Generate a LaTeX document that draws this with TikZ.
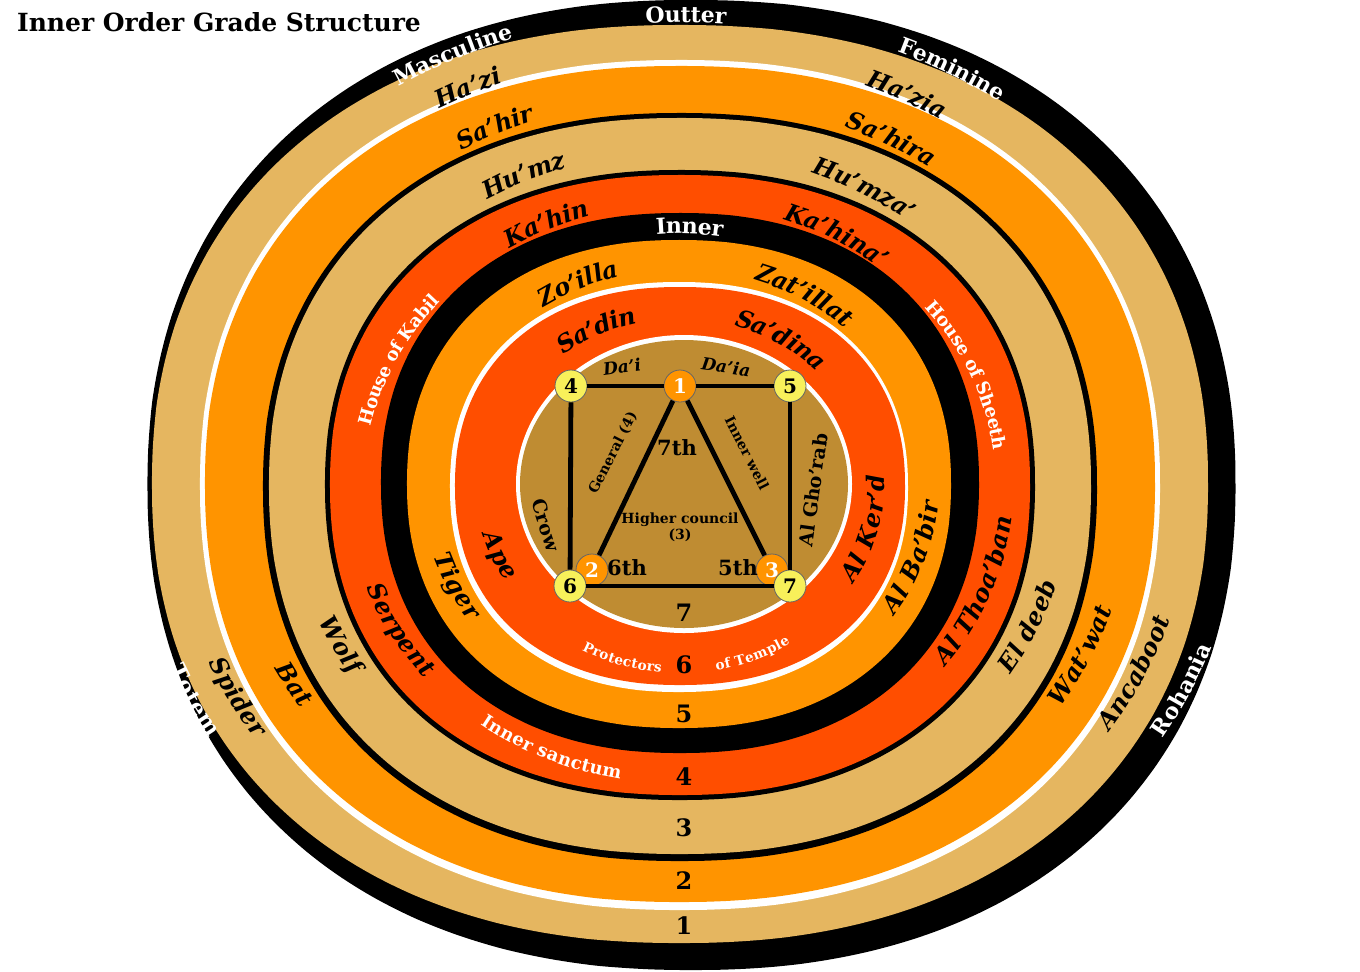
\documentclass[tikz,border=0pt]{standalone}
\usepackage{fontspec}
\setmainfont{DejaVu Serif}
\usetikzlibrary{decorations.text}
\definecolor{tanband}{RGB}{229,182,96}
\definecolor{orangeband}{RGB}{255,148,0}
\definecolor{redband}{RGB}{255,78,0}
\definecolor{browndisc}{RGB}{191,140,50}
\definecolor{yellownode}{RGB}{248,240,90}
\newcommand{\labfont}{\fontsize{12}{14}\selectfont\bfseries\itshape}
\newcommand{\capfont}{\fontsize{11}{13}\selectfont\bfseries}
\newcommand{\smallcap}{\fontsize{9}{11}\selectfont\bfseries}
\newcommand{\tinycap}{\fontsize{6.8}{8}\selectfont\bfseries}
% a filled ring boundary, a little squarer than an ellipse
\newcommand{\ringfill}[5]{\fill[#5] plot[domain=0.5:360.5,samples=145,smooth]
  ({#1+#3*sign(cos(\x))*abs(cos(\x))^0.9},{#2+#4*sign(sin(\x))*abs(sin(\x))^0.9}) -- cycle;}
% text running clockwise (top of ring)
\newcommand{\cwlabel}[7]{\path[decorate,decoration={text along path,text align=center,raise=-4.5pt,text color=#5,text={|#6|#7}}]
  (#1) ++({-(#4)-40}:1.025*#2 and 1.025*#3) arc[start angle={-(#4)-40},end angle={-(#4)+40},x radius=1.025*#2,y radius=1.025*#3];}
% text running counter clockwise (bottom and sides)
\newcommand{\ccwlabel}[7]{\path[decorate,decoration={text along path,text align=center,raise=-4.5pt,text color=#5,text={|#6|#7}}]
  (#1) ++({-(#4)+40}:1.025*#2 and 1.025*#3) arc[start angle={-(#4)+40},end angle={-(#4)-40},x radius=1.025*#2,y radius=1.025*#3];}
\tikzset{
  gradenode/.style={circle,draw=black!60,line width=0.4pt,minimum size=16pt,inner sep=0pt,font=\fontsize{10}{11}\selectfont\bfseries},
  yellowgrade/.style={gradenode,fill=yellownode,text=black},
  orangegrade/.style={gradenode,fill=orangeband,text=white},
  link/.style={line width=2.4pt,black},
  ringnum/.style={font=\fontsize{12}{14}\selectfont\bfseries}
}
\begin{document}
\begin{tikzpicture}[x=0.5pt,y=-0.5pt]
  \useasboundingbox (0,0) rectangle (1360,971);
  % rings, outside in
  \ringfill{691.5}{485}{544}{485}{black}
  \ringfill{680}{484}{528}{459}{tanband}
  \ringfill{680}{485}{480}{425}{white}
  \ringfill{680}{484}{475}{418}{orangeband}
  \ringfill{680}{487}{417}{374}{black}
  \ringfill{680}{486}{411}{368}{tanband}
  \ringfill{680}{485}{355}{315}{black}
  \ringfill{680}{485}{350}{310}{redband}
  \ringfill{680}{483}{299}{270}{black}
  \ringfill{679}{484}{272}{244}{orangeband}
  \ringfill{679}{487}{229}{205}{white}
  \ringfill{680}{486}{225}{199}{redband}
  \fill[white] (684,484) ellipse [x radius=168,y radius=149];
  \fill[browndisc] (684,484) ellipse [x radius=164,y radius=144];

  \node[anchor=west,font=\fontsize{12.5}{14}\selectfont\bfseries] (title) at (10,22) {Inner Order Grade Structure};

  % outer black ring
  \cwlabel{686,485}{527}{460}{90}{white}{\capfont}{Outter}
  \cwlabel{686,485}{535}{468}{116.5}{white}{\capfont}{Masculine}
  \cwlabel{686,485}{535}{468}{59.5}{white}{\capfont}{Feminine}
  \ccwlabel{686,485}{535}{468}{205.3}{white}{\capfont}{Totem}
  \ccwlabel{686,485}{535}{468}{-24}{white}{\capfont}{Rohania}
  % ring 1
  \cwlabel{680,485}{490}{429}{116.2}{black}{\labfont}{Ha’zi}
  \cwlabel{680,485}{490}{429}{61.8}{black}{\labfont}{Ha’zia}
  \ccwlabel{680,485}{492}{431}{207.3}{black}{\labfont}{Spider}
  \ccwlabel{680,485}{492}{431}{-24}{black}{\labfont}{Ancaboot}
  % ring 2
  \cwlabel{680,485}{435}{386}{115.7}{black}{\labfont}{Sa’hir}
  \cwlabel{680,485}{435}{386}{60.4}{black}{\labfont}{Sa’hira}
  \ccwlabel{680,485}{435}{386}{208.9}{black}{\labfont}{Bat}
  \ccwlabel{680,485}{435}{386}{-24.5}{black}{\labfont}{Wat’wat}
  % ring 3
  \cwlabel{680,485}{374}{334}{115.2}{black}{\labfont}{Hu’mz}
  \cwlabel{680,485}{374}{334}{59.9}{black}{\labfont}{Hu’mza’}
  \ccwlabel{680,485}{374}{334}{206.7}{black}{\labfont}{Wolf}
  \ccwlabel{680,485}{374}{334}{-23.4}{black}{\labfont}{El deeb}
  % ring 4
  \cwlabel{680,485}{317}{283}{115.4}{black}{\labfont}{Ka’hin}
  \cwlabel{680,485}{317}{283}{59.7}{black}{\labfont}{Ka’hina’}
  \cwlabel{680,485}{317}{283}{154.5}{white}{\smallcap}{House of Kabil}
  \cwlabel{680,485}{317}{283}{22.4}{white}{\smallcap}{House of Sheeth}
  \ccwlabel{680,485}{317}{283}{209}{black}{\labfont}{Serpent}
  \ccwlabel{680,485}{317}{283}{-21}{black}{\labfont}{Al Thoa’ban}
  \ccwlabel{680,485}{317}{283}{245.6}{white}{\smallcap}{Inner sanctum}
  % inner black ring
  \cwlabel{680,485}{280}{254}{88}{white}{\capfont}{Inner}
  % ring 5
  \cwlabel{680,485}{244}{219}{115.3}{black}{\labfont}{Zo’illa}
  \cwlabel{680,485}{244}{219}{58.5}{black}{\labfont}{Zat’illat}
  \ccwlabel{680,485}{244}{219}{205.7}{black}{\labfont}{Tiger}
  \ccwlabel{680,485}{244}{219}{-18.4}{black}{\labfont}{Al Ba’bir}
  % ring 6
  \cwlabel{680,485}{191}{171}{116.6}{black}{\labfont}{Sa’din}
  \cwlabel{680,485}{191}{171}{57.1}{black}{\labfont}{Sa’dina}
  \ccwlabel{680,485}{191}{171}{202.6}{black}{\labfont}{Ape}
  \ccwlabel{680,485}{191}{171}{-14}{black}{\labfont}{Al Ker’d}
  \ccwlabel{680,485}{191}{175}{252.5}{white}{\tinycap}{Protectors}
  \ccwlabel{680,485}{191}{175}{292.1}{white}{\tinycap}{of Temple}

  % ring numbers
  \node[ringnum] (r1) at (684,926) {1};
  \node[ringnum] (r2) at (684,881) {2};
  \node[ringnum] (r3) at (684,828) {3};
  \node[ringnum] (r4) at (684,777) {4};
  \node[ringnum] (r5) at (684,714) {5};
  \node[ringnum] (r6) at (684,665) {6};
  \node[ringnum] (r7) at (684,613) {7};

  % grade square and triangle
  \node[orangegrade] (g2) at (592,570) {2};
  \node[orangegrade] (g3) at (772,570) {3};
  \node[orangegrade] (g1) at (680,386) {1};
  \node[yellowgrade] (g4) at (571,386) {4};
  \node[yellowgrade] (g5) at (790,386) {5};
  \node[yellowgrade] (g6) at (570,586) {6};
  \node[yellowgrade] (g7) at (790,586) {7};
  \draw[link] (g4) -- (g1);
  \draw[link] (g1) -- (g5);
  \draw[link] (g5) -- (g7);
  \draw[link] (g4) -- (g6);
  \draw[link] (g6) -- (g7);
  \draw[link] (g1) -- (g2);
  \draw[link] (g1) -- (g3);

  \node[font=\fontsize{8.5}{9}\selectfont\bfseries\itshape,rotate=8] (dai) at (622,367) {Da’i};
  \node[font=\fontsize{8.5}{9}\selectfont\bfseries\itshape,rotate=-8] (daia) at (726,367) {Da’ia};
  \node[font=\fontsize{7}{8}\selectfont\bfseries,rotate=63] (general) at (613,453) {General (4)};
  \node[font=\fontsize{7}{8}\selectfont\bfseries,rotate=-63] (innerwell) at (747,453) {Inner well};
  \node[font=\fontsize{9.5}{10}\selectfont\bfseries,rotate=-72] (crow) at (546,525) {Crow};
  \node[font=\fontsize{9.5}{10}\selectfont\bfseries,rotate=82] (ghorab) at (813,490) {Al Gho’rab};
  \node[font=\fontsize{10.5}{12}\selectfont\bfseries] (seventh) at (677,448) {7th};
  \node[font=\fontsize{10.5}{12}\selectfont\bfseries] (sixth) at (627,568) {6th};
  \node[font=\fontsize{10.5}{12}\selectfont\bfseries] (fifth) at (738,568) {5th};
  \node[font=\fontsize{7}{8}\selectfont\bfseries,align=center] (council) at (680,527) {Higher council\\(3)};
\end{tikzpicture}
\end{document}
